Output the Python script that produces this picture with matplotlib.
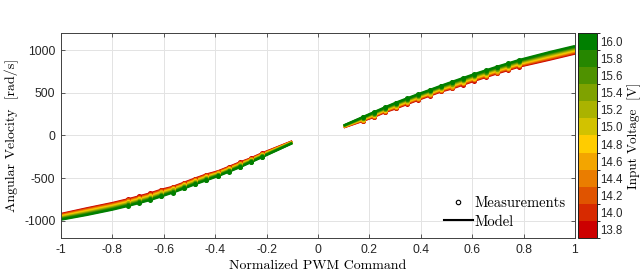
import matplotlib
matplotlib.use("Agg")
import matplotlib.pyplot as plt
from matplotlib.colors import ListedColormap, BoundaryNorm
from matplotlib.cm import ScalarMappable
from matplotlib.lines import Line2D

# Input voltages (one model curve + measurements each), low to high.
voltages = [13.8, 14.0, 14.2, 14.4, 14.6, 14.8, 15.0, 15.2, 15.4, 15.6, 15.8, 16.0]
colors = ["#cc0000", "#d72a00", "#e05400", "#ea7d00", "#f3a500", "#ffcc00",
          "#d2c200", "#aab300", "#7fa200", "#4f9200", "#268700", "#007f00"]

# Negative PWM branch.
pwm_neg = [-1.0, -0.9, -0.8, -0.739, -0.696, -0.652, -0.609, -0.565, -0.522,
           -0.478, -0.435, -0.391, -0.348, -0.304, -0.261, -0.217, -0.1]
speed_neg = [
    [-919, -853, -791, -747, -713, -677, -635, -602, -554, -504, -458, -422, -370, -316, -268, -208, -68],
    [-925, -860, -798, -754, -720, -684, -642, -608, -560, -510, -464, -427, -375, -321, -272, -212, -70],
    [-931, -867, -805, -761, -727, -691, -649, -614, -566, -516, -470, -432, -380, -326, -276, -216, -72],
    [-937, -874, -812, -768, -734, -698, -656, -620, -572, -522, -476, -437, -385, -331, -280, -220, -74],
    [-943, -881, -819, -775, -741, -705, -663, -626, -578, -528, -482, -442, -390, -336, -284, -224, -76],
    [-949, -888, -826, -782, -748, -712, -670, -632, -584, -534, -488, -447, -395, -341, -288, -228, -78],
    [-955, -895, -833, -789, -755, -719, -677, -638, -590, -540, -494, -452, -400, -346, -292, -232, -80],
    [-961, -902, -840, -796, -762, -726, -684, -644, -596, -546, -500, -457, -405, -351, -296, -236, -82],
    [-967, -909, -847, -803, -769, -733, -691, -650, -602, -552, -506, -462, -410, -356, -300, -240, -84],
    [-973, -916, -854, -810, -776, -740, -698, -656, -608, -558, -512, -467, -415, -361, -304, -244, -86],
    [-979, -923, -861, -817, -783, -747, -705, -662, -614, -564, -518, -472, -420, -366, -308, -248, -88],
    [-985, -930, -868, -824, -790, -754, -712, -668, -620, -570, -524, -477, -425, -371, -312, -252, -90],
]

# Positive PWM branch.
pwm_pos = [0.1, 0.174, 0.217, 0.261, 0.304, 0.348, 0.391, 0.435, 0.478,
           0.522, 0.565, 0.609, 0.652, 0.696, 0.739, 0.782, 0.9, 1.0]
speed_pos = [
    [95, 171, 217, 275, 319, 370, 419, 467, 515, 551, 596, 642, 684, 727, 766, 806, 887, 959],
    [97, 175, 222, 280, 325, 376, 425, 473, 521, 558, 603, 649, 691, 734, 773, 813, 895, 967],
    [99, 179, 227, 285, 331, 382, 431, 479, 527, 565, 610, 656, 698, 741, 780, 820, 903, 975],
    [101, 183, 232, 290, 337, 388, 437, 485, 533, 572, 617, 663, 705, 748, 787, 827, 911, 983],
    [103, 187, 237, 295, 343, 394, 443, 491, 539, 579, 624, 670, 712, 755, 794, 834, 919, 991],
    [105, 191, 242, 300, 349, 400, 449, 497, 545, 586, 631, 677, 719, 762, 801, 841, 927, 999],
    [107, 195, 247, 305, 355, 406, 455, 503, 551, 593, 638, 684, 726, 769, 808, 848, 935, 1007],
    [109, 199, 252, 310, 361, 412, 461, 509, 557, 600, 645, 691, 733, 776, 815, 855, 943, 1015],
    [111, 203, 257, 315, 367, 418, 467, 515, 563, 607, 652, 698, 740, 783, 822, 862, 951, 1023],
    [113, 207, 262, 320, 373, 424, 473, 521, 569, 614, 659, 705, 747, 790, 829, 869, 959, 1031],
    [115, 211, 267, 325, 379, 430, 479, 527, 575, 621, 666, 712, 754, 797, 836, 876, 967, 1039],
    [117, 215, 272, 330, 385, 436, 485, 533, 581, 628, 673, 719, 761, 804, 843, 883, 975, 1047],
]

# Which samples are measurements (the rest are model-only points).
meas_neg = slice(3, 16)
meas_pos = slice(1, 16)

x_ticks = [-1, -0.8, -0.6, -0.4, -0.2, 0, 0.2, 0.4, 0.6, 0.8, 1]
x_tick_labels = ["-1", "-0.8", "-0.6", "-0.4", "-0.2", "0", "0.2", "0.4", "0.6", "0.8", "1"]
y_ticks = [-1000, -500, 0, 500, 1000]
y_tick_labels = ["-1000", "-500", "0", "500", "1000"]

serif = "cmr10"
tick_font = "Liberation Sans"
axis_color = "#404040"

fig = plt.figure(figsize=(6.4, 2.71), dpi=100)
ax = fig.add_axes([0.0953, 0.1218, 0.8031, 0.7565])
cax = fig.add_axes([0.9031, 0.1218, 0.0297, 0.7565])

for i, c in enumerate(colors):
    ax.plot(pwm_neg, speed_neg[i], color=c, lw=1.7, solid_capstyle="butt", zorder=2)
    ax.plot(pwm_pos, speed_pos[i], color=c, lw=1.7, solid_capstyle="butt", zorder=2)
    ax.plot(pwm_neg[meas_neg], speed_neg[i][meas_neg], "o", color=c, ms=3.6, mew=0, zorder=3)
    ax.plot(pwm_pos[meas_pos], speed_pos[i][meas_pos], "o", color=c, ms=3.6, mew=0, zorder=3)

ax.set_xlim(-1, 1)
ax.set_ylim(-1200, 1200)
ax.set_xticks(x_ticks)
ax.set_xticklabels(x_tick_labels, family=tick_font, fontsize=8.7, color="#262626")
ax.set_yticks(y_ticks)
ax.set_yticklabels(y_tick_labels, family=tick_font, fontsize=8.7, color="#262626")
ax.tick_params(direction="in", length=3, width=0.6, color=axis_color,
               top=True, right=True, pad=4)
ax.grid(True, color="#e3e3e3", lw=0.7)
ax.set_axisbelow(True)
for s in ax.spines.values():
    s.set_color(axis_color)
    s.set_linewidth(0.7)

ax.set_xlabel("Normalized PWM Command", family=serif, fontsize=10, labelpad=3)
ax.set_ylabel("Angular Velocity  [rad/s]", family=serif, fontsize=10, labelpad=4)

handles = [
    Line2D([], [], marker="o", ls="none", mfc="none", mec="k", mew=0.8, ms=3.2),
    Line2D([], [], color="k", lw=1.5),
]
ax.legend(handles, ["Measurements", "Model"], loc="lower right", frameon=False,
          prop={"family": serif, "size": 10.5}, handlelength=2.0, handletextpad=0.1,
          labelspacing=0.35, borderaxespad=0.25)

# Discrete colorbar, one band per voltage.
bounds = [v - 0.1 for v in voltages] + [voltages[-1] + 0.1]
cmap = ListedColormap(colors)
norm = BoundaryNorm(bounds, cmap.N)
cb = fig.colorbar(ScalarMappable(norm=norm, cmap=cmap), cax=cax, ticks=voltages)
cb.ax.set_yticklabels([f"{v:.1f}" for v in voltages], family=tick_font,
                      fontsize=8.3, color="#262626")
cb.ax.tick_params(length=0, pad=2.5)
cb.outline.set_linewidth(0.7)
cb.outline.set_edgecolor("#202020")
fig.text(0.991, 0.5, "Input Voltage  [V]", family=serif, fontsize=9.5,
         rotation=90, ha="center", va="center")

fig.savefig("out.png", dpi=100)
